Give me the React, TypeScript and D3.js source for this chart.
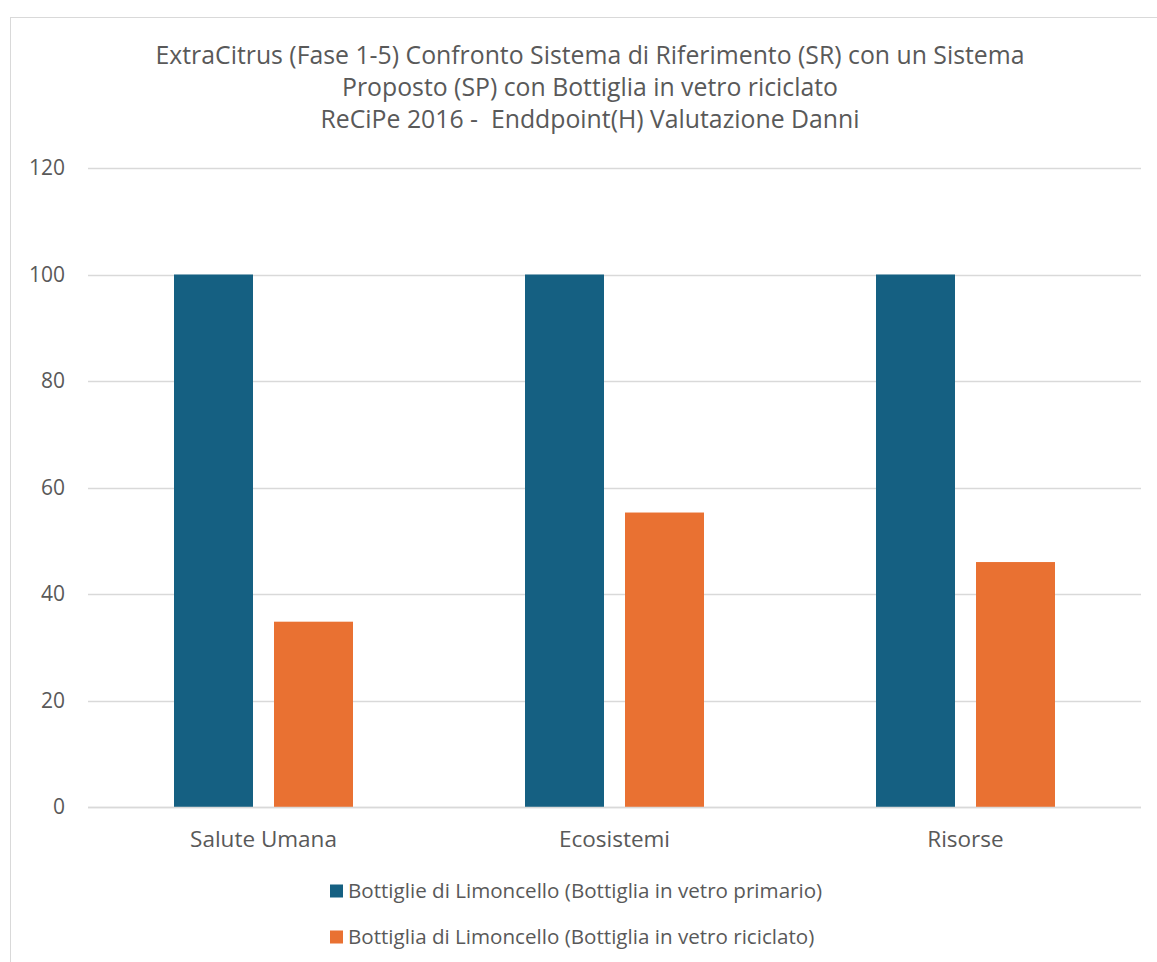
import React, { useEffect, useRef } from "react";
import * as d3 from "d3";

const categories = ["Salute Umana", "Ecosistemi", "Risorse"];
const seriesNames = [
  "Bottiglie di Limoncello (Bottiglia in vetro primario)",
  "Bottiglia di Limoncello (Bottiglia in vetro riciclato)",
];
const primarioValues = [100, 100, 100];
const riciclatoValues = [34.8, 55.3, 46.0];
const yTicks = [0, 20, 40, 60, 80, 100, 120];
const titleLines = [
  "ExtraCitrus (Fase 1-5) Confronto Sistema di Riferimento (SR) con un Sistema",
  "Proposto (SP) con Bottiglia in vetro riciclato",
  "ReCiPe 2016 -  Enddpoint(H) Valutazione Danni",
];
const seriesColors = ["#156082", "#E97132"];

const W = 1157;
const H = 962;
const FONT = "'Open Sans', Roboto, sans-serif";
const TEXT = "#595959";

export default function App() {
  const ref = useRef<SVGSVGElement>(null);

  useEffect(() => {
    const svg = d3.select(ref.current);
    svg.selectAll("*").remove();

    // chart frame
    svg
      .append("rect")
      .attr("x", 10.5)
      .attr("y", 17.5)
      .attr("width", W + 20)
      .attr("height", H + 20)
      .attr("fill", "#fff")
      .attr("stroke", "#D9D9D9")
      .attr("stroke-width", 1);

    const plot = { left: 88, right: 1141, top: 168, bottom: 807 };

    const y = d3.scaleLinear().domain([0, 120]).range([plot.bottom, plot.top]);
    const x0 = d3
      .scaleBand<string>()
      .domain(categories)
      .range([plot.left, plot.right])
      .paddingInner(0)
      .paddingOuter(0);

    // bars: width 79, gap 21 between the two series within a group
    const barW = 79;
    const innerGap = 21;
    const groupW = barW * 2 + innerGap;

    // gridlines
    svg
      .append("g")
      .selectAll("line")
      .data(yTicks)
      .join("line")
      .attr("x1", plot.left)
      .attr("x2", plot.right)
      .attr("y1", (d) => Math.round(y(d)) + 0.5)
      .attr("y2", (d) => Math.round(y(d)) + 0.5)
      .attr("stroke", "#D9D9D9")
      .attr("stroke-width", 1.5);

    // y tick labels
    svg
      .append("g")
      .selectAll("text")
      .data(yTicks)
      .join("text")
      .attr("x", 65)
      .attr("y", (d) => y(d))
      .attr("dy", "0.35em")
      .attr("text-anchor", "end")
      .attr("font-family", FONT)
      .attr("font-size", 21)
      .attr("fill", TEXT)
      .text((d) => String(d));

    const seriesData = [primarioValues, riciclatoValues];
    seriesData.forEach((vals, si) => {
      svg
        .append("g")
        .selectAll("rect")
        .data(vals)
        .join("rect")
        .attr("x", (_, i) => {
          const c = (x0(categories[i]) as number) + x0.bandwidth() / 2;
          return c - groupW / 2 + si * (barW + innerGap);
        })
        .attr("y", (d) => y(d))
        .attr("width", barW)
        .attr("height", (d) => y(0) - y(d))
        .attr("fill", seriesColors[si]);
    });

    // baseline
    svg
      .append("line")
      .attr("x1", plot.left)
      .attr("x2", plot.right)
      .attr("y1", Math.round(y(0)) + 0.5)
      .attr("y2", Math.round(y(0)) + 0.5)
      .attr("stroke", "#D9D9D9")
      .attr("stroke-width", 1.5);

    // category labels
    svg
      .append("g")
      .selectAll("text")
      .data(categories)
      .join("text")
      .attr("x", (d) => (x0(d) as number) + x0.bandwidth() / 2)
      .attr("y", 839)
      .attr("dy", "0.35em")
      .attr("text-anchor", "middle")
      .attr("font-family", FONT)
      .attr("font-size", 22.5)
      .attr("fill", TEXT)
      .text((d) => d);

    // title
    svg
      .append("g")
      .selectAll("text")
      .data(titleLines)
      .join("text")
      .attr("x", 590)
      .attr("y", (_, i) => 55 + i * 32)
      .attr("dy", "0.35em")
      .attr("text-anchor", "middle")
      .attr("font-family", FONT)
      .attr("font-size", 24.8)
      .attr("fill", TEXT)
      .style("white-space", "pre")
      .text((d) => d);

    // legend
    const legend = svg.append("g");
    seriesNames.forEach((name, i) => {
      const ly = 891 + i * 46;
      legend
        .append("rect")
        .attr("x", 330)
        .attr("y", ly - 6.5)
        .attr("width", 13)
        .attr("height", 13)
        .attr("fill", seriesColors[i]);
      legend
        .append("text")
        .attr("x", 348)
        .attr("y", ly)
        .attr("dy", "0.35em")
        .attr("font-family", FONT)
        .attr("font-size", 20.6)
        .attr("fill", TEXT)
        .text(name);
    });
  }, []);

  return (
    <svg
      ref={ref}
      width={W}
      height={H}
      style={{ position: "absolute", left: 0, top: 0, background: "#fff" }}
    />
  );
}
